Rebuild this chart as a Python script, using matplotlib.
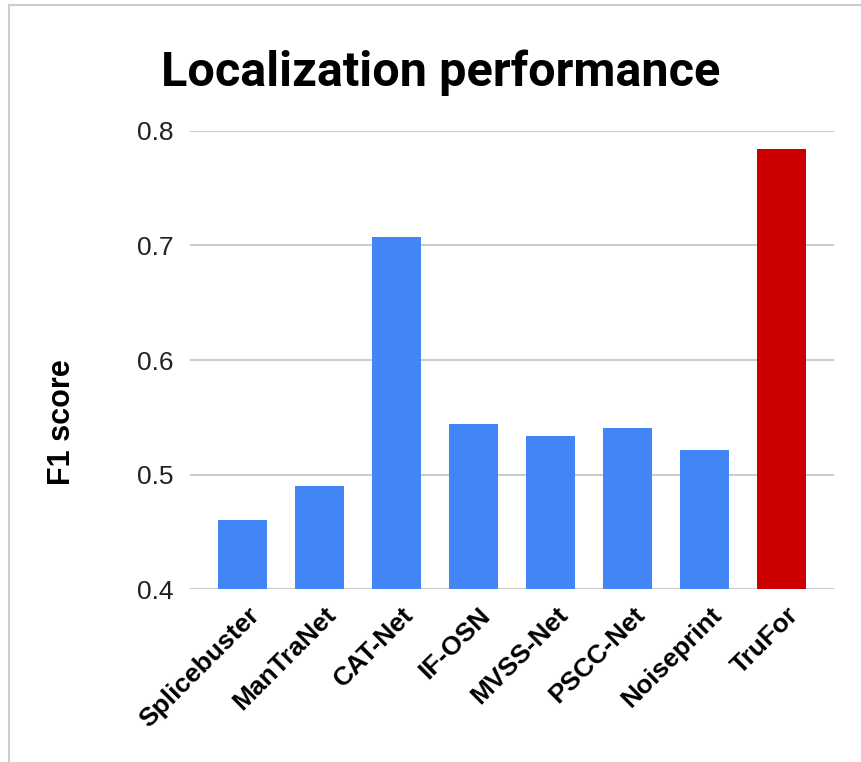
import matplotlib.pyplot as plt
from matplotlib.lines import Line2D
from matplotlib.transforms import ScaledTranslation

methods = ["Splicebuster", "ManTraNet", "CAT-Net", "IF-OSN", "MVSS-Net",
           "PSCC-Net", "Noiseprint", "TruFor"]
f1 = [0.460, 0.490, 0.707, 0.544, 0.534, 0.541, 0.521, 0.784]
colors = ["#4285F4"] * 7 + ["#CC0000"]
yticks = [0.4, 0.5, 0.6, 0.7, 0.8]

fig = plt.figure(figsize=(8.62, 7.62), dpi=100)
ax = fig.add_axes([0.2204, 0.2270, 0.7471, 0.6011])

x = range(len(methods))
ax.bar(x, [v - 0.4 for v in f1], bottom=0.4, width=0.64, color=colors, zorder=3)

ax.set_ylim(0.4, 0.8)
ax.set_xlim(-0.68, len(methods) - 1 + 0.68)
ax.set_yticks(yticks)
ax.set_yticklabels([f"{t:.1f}" for t in yticks], fontsize=19, color="#222222",
                   family="Liberation Sans")
ax.yaxis.grid(True, color="#cccccc", linewidth=1.5, zorder=0)
ax.tick_params(axis="y", length=0, pad=12)
ax.tick_params(axis="x", length=0, pad=10)
for s in ax.spines.values():
    s.set_visible(False)

ax.set_xticks(list(x))
ax.set_xticklabels(methods, rotation=45, ha="right", va="top",
                   rotation_mode="anchor", fontsize=19, fontweight="bold",
                   family="Liberation Sans")
shift = ScaledTranslation(0.05, 0, fig.dpi_scale_trans)
for lbl in ax.get_xticklabels():
    lbl.set_transform(lbl.get_transform() + shift)

ax.yaxis.set_label_coords(62 / 862, 0.5, transform=fig.transFigure)
ax.set_ylabel("F1 score", fontsize=22, fontweight="bold", family="Liberation Sans",
              va="center")
ax.yaxis.label.set_y((1 - 422 / 762))

fig.text(0.511, 0.905, "Localization performance", ha="center", va="center",
         fontsize=35, fontweight="bold", family="Roboto")

# frame of the screenshot (left and top edges only)
fig.add_artist(Line2D([9 / 862, 9 / 862], [0, 1 - 5 / 762], color="#cccccc",
                      linewidth=1.5, transform=fig.transFigure))
fig.add_artist(Line2D([9 / 862, 1], [1 - 5 / 762, 1 - 5 / 762], color="#cccccc",
                      linewidth=1.5, transform=fig.transFigure))

fig.savefig("out.png", dpi=100)
